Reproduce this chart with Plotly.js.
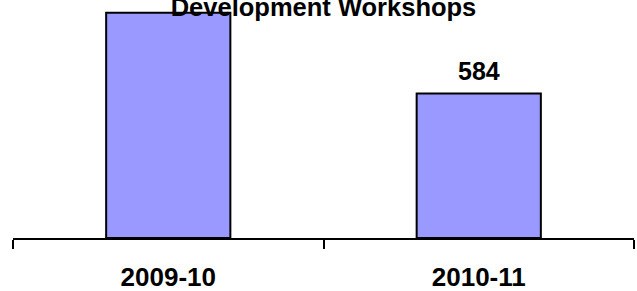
<!DOCTYPE html>
<html>
<head>
<meta charset="utf-8">
<script src="https://cdn.plot.ly/plotly-3.0.1.min.js"></script>
<style>html,body{margin:0;padding:0;background:#fff;}#chart{width:637px;height:291px;}</style>
</head>
<body>
<div id="chart"></div>
<script>
// Data
const chartTitle = "Development Workshops";
const categories = ["2009-10", "2010-11"];
const workshops = [910, 584];

const FONT = "Liberation Sans, Arial, Helvetica, sans-serif";

const trace = {
  type: "bar",
  x: categories,
  y: workshops,
  marker: {color: "#9999FF", line: {color: "#000", width: 2}},
  hoverinfo: "none"
};

// value labels above each bar, placed through the axes
const valueLabels = categories.map((c, i) => ({
  xref: "x", yref: "y",
  x: c, y: workshops[i],
  text: "<b>" + workshops[i] + "</b>",
  showarrow: false,
  yanchor: "bottom",
  yshift: 7,
  font: {family: FONT, size: 25, color: "#000"}
}));

const layout = {
  width: 637,
  height: 291,
  margin: {l: 13, r: 3, t: 0, b: 53, pad: 0},
  paper_bgcolor: "#fff",
  plot_bgcolor: "#fff",
  showlegend: false,
  bargap: 0.6,
  title: {
    text: "<b>" + chartTitle + "</b>",
    font: {family: FONT, size: 25.5, color: "#000"},
    x: 0.5, xanchor: "center",
    xref: "paper", yref: "container",
    y: 1 - 16/291, yanchor: "bottom",
    pad: {t: 0, b: 0, l: 0, r: 0}
  },
  annotations: valueLabels,
  xaxis: {
    type: "category",
    showline: true, linecolor: "#000", linewidth: 2,
    ticks: "outside", tickson: "boundaries", ticklen: 9, tickwidth: 2, tickcolor: "#000",
    tickfont: {family: FONT, size: 26, color: "#000", weight: "bold"},
    ticklabelstandoff: 15,
    showgrid: false, zeroline: false, automargin: false, fixedrange: true
  },
  yaxis: {
    visible: false, range: [0, 962], showgrid: false, zeroline: false, automargin: false, fixedrange: true
  }
};

Plotly.newPlot("chart", [trace], layout, {displayModeBar: false, staticPlot: true});
</script>
</body>
</html>
